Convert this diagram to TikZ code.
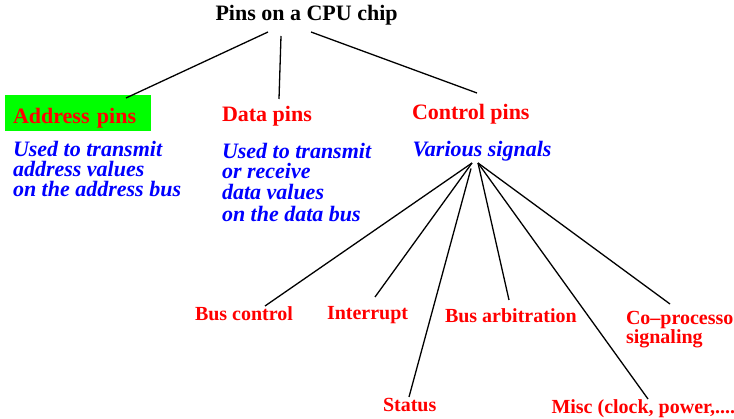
\documentclass[tikz,border=0pt]{standalone}
\usepackage{fontspec}
\setmainfont{Liberation Serif}
\begin{document}
\begin{tikzpicture}[x=1pt,y=-1pt,
  every node/.style={inner sep=0pt, outer sep=0pt},
  toptitle/.style={font=\fontsize{22}{26}\selectfont\bfseries, text=black, anchor=base west},
  head/.style={font=\fontsize{22}{26}\selectfont\bfseries, text=red, anchor=base west},
  note/.style={font=\fontsize{22}{20}\selectfont\bfseries\itshape, text=blue, anchor=base west},
  leaf/.style={font=\fontsize{20}{19}\selectfont\bfseries, text=red, anchor=base west},
  link/.style={line width=1.3pt, draw=black}]
\useasboundingbox (0,0) rectangle (734,419);
% title and main categories
\node[toptitle] (title) at (215.5,21) {Pins on a CPU chip};
\node[head, fill=green, anchor=north west, inner xsep=8pt, inner ysep=0pt,
      text height=28.3pt, text depth=7.4pt, text width=130pt, align=left] (addr) at (5,95) {Address pins};
\node[head] (data) at (222,121.8) {Data pins};
\node[head] (ctrl) at (412,119.7) {Control pins};
% descriptions
\node[note] (addrnote) at (13,156.7) {\vtop{\hbox{Used to transmit}\hbox{address values}\hbox{on the address bus}}};
\node[note] (datanote) at (222,159) {\vtop{\hbox{Used to transmit}\kern-0.5pt\hbox{or receive}\kern1.5pt\hbox{data values}\kern1.7pt\hbox{on the data bus}}};
\node[note] (various) at (412.7,156.7) {Various signals};
% control signal kinds
\node[leaf] (busc) at (195,320.7) {Bus control};
\node[leaf] (intr) at (327,319.3) {Interrupt};
\node[leaf] (status) at (383,411.7) {Status};
\node[leaf] (busarb) at (445,322.7) {Bus arbitration};
\node[leaf] (misc) at (551.5,414) {Misc (clock, power,....};
\node[leaf] (coproc) at (626,325) {\vtop{\hbox{Co–processo}\hbox{signaling}}};
% connectors
\draw[link] ([shift={(52.5,11)}]title.base west) -- ([shift={(121,3)}]addr.north west);
\draw[link] ([shift={(65.5,15)}]title.base west) -- ([shift={(57,-22.8)}]data.base west);
\draw[link] ([shift={(95.5,11)}]title.base west) -- ([shift={(65,-26.7)}]ctrl.base west);
\draw[link] ([shift={(59.3,6.3)}]various.base west) -- ([shift={(70,-14.7)}]busc.base west);
\draw[link] ([shift={(59.3,6.3)}]various.base west) -- ([shift={(48,-22.3)}]intr.base west);
\draw[link] ([shift={(58.3,11.8)}]various.base west) -- ([shift={(26,-14.7)}]status.base west);
\draw[link] ([shift={(65.3,6.3)}]various.base west) -- ([shift={(64,-22.7)}]busarb.base west);
\draw[link] ([shift={(65.3,6.3)}]various.base west) -- ([shift={(96.5,-15)}]misc.base west);
\draw[link] ([shift={(65.3,6.3)}]various.base west) -- ([shift={(44,-21)}]coproc.base west);
\end{tikzpicture}
\end{document}
